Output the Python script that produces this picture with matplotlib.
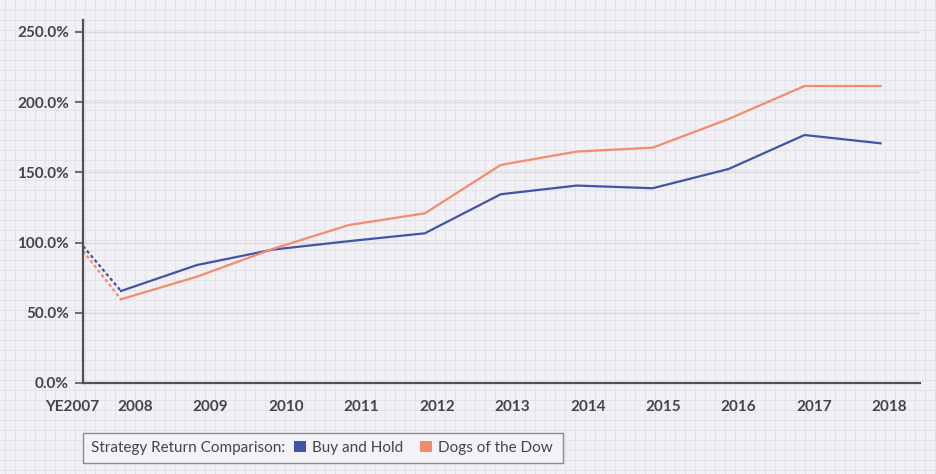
import numpy as np
import matplotlib
matplotlib.use("Agg")
import matplotlib.pyplot as plt
import matplotlib.transforms as mtransforms
from matplotlib.patches import Patch, Rectangle

# Data (YE2007 sits half a year before 2008)
years = [2007.5, 2008, 2009, 2010, 2011, 2012, 2013, 2014, 2015, 2016, 2017, 2018]
year_labels = ["YE2007", "2008", "2009", "2010", "2011", "2012", "2013",
               "2014", "2015", "2016", "2017", "2018"]
buy_and_hold = [97.5, 65.5, 84.0, 95.0, 101.0, 106.6, 134.4, 140.6, 138.7, 152.4, 176.6, 170.7]
dogs_of_dow = [94.0, 59.6, 75.7, 95.5, 112.5, 120.8, 155.3, 164.8, 167.6, 188.0, 211.5, 211.5]
y_ticks = [0, 50, 100, 150, 200, 250]

blue = "#4254a6"
orange = "#f38b6d"
text_col = "#454545"
W, H = 936, 474

plt.rcParams["font.family"] = ["Lato", "DejaVu Sans"]

fig = plt.figure(figsize=(W / 100, H / 100), dpi=100)
fig.patch.set_facecolor("#f1f0f4")

# graph-paper background
bg = fig.add_axes([0, 0, 1, 1], zorder=-1)
bg.set_xlim(0, W)
bg.set_ylim(0, H)
for gx in np.arange(5, W, 10):
    bg.axvline(gx, color="#e4e2e9", lw=0.7)
for gy in np.arange(4, H, 10):
    bg.axhline(gy, color="#e4e2e9", lw=0.7)
bg.set_facecolor("#f1f0f4")
bg.axis("off")

ax = fig.add_axes([83 / W, 91 / H, 837 / W, 363 / H])
ax.patch.set_alpha(0)

# dashed first step, solid afterwards
ax.plot(years[:2], buy_and_hold[:2], color=blue, lw=1.6, ls=(0, (1.5, 1.2)))
ax.plot(years[:2], dogs_of_dow[:2], color=orange, lw=1.6, ls=(0, (1.5, 1.2)))
ax.plot(years[1:], buy_and_hold[1:], color=blue, lw=1.6)
ax.plot(years[1:], dogs_of_dow[1:], color=orange, lw=1.6)

ax.set_yticks(y_ticks)
ax.set_yticklabels(["%.1f%%" % v for v in y_ticks])
ax.set_xticks(years)
ax.set_xticklabels(year_labels)
ax.set_xlim(2007.5, 2018.52)
ax.set_ylim(0, 258.5)
ax.grid(axis="y", color="#d9d8de", lw=1)
ax.set_axisbelow(True)

ax.tick_params(axis="y", length=6, width=1.2, color="#555555", pad=4,
               labelsize=11, labelcolor=text_col)
ax.tick_params(axis="x", length=0, pad=12, labelsize=11, labelcolor=text_col)
for lab in ax.get_xticklabels() + ax.get_yticklabels():
    lab.set_fontweight("bold")

# year labels sit a little right of their points; YE2007 a little left
for i, lab in enumerate(ax.get_xticklabels()):
    dx = -11 if i == 0 else 14 - 0.5 * (i - 1)
    lab.set_transform(lab.get_transform() +
                      mtransforms.ScaledTranslation(dx / 100, 0, fig.dpi_scale_trans))

for side in ["top", "right"]:
    ax.spines[side].set_visible(False)
for side in ["left", "bottom"]:
    ax.spines[side].set_color("#505050")
    ax.spines[side].set_linewidth(1.6)

# legend: inline title, then the two series, in one box
leg_y = (H - 448) / H
title = fig.text(91 / W, leg_y, "Strategy Return Comparison:", ha="left",
                 va="center", fontsize=11, color=text_col)
fig.canvas.draw()
tb = title.get_window_extent()
handles = [Patch(facecolor=blue, edgecolor="none"),
           Patch(facecolor=orange, edgecolor="none")]
leg = fig.legend(handles, ["Buy and Hold", "Dogs of the Dow"], ncol=2,
                 loc="center left", bbox_to_anchor=((tb.x1 + 9) / W, leg_y),
                 borderaxespad=0, borderpad=0, frameon=False, fontsize=11,
                 handlelength=0.78, handleheight=0.78, handletextpad=0.4,
                 columnspacing=1.1, labelcolor=text_col)
fig.canvas.draw()
lb = leg.get_window_extent()
box = Rectangle((83 / W, (H - 463) / H), (lb.x1 + 10 - 83) / W, 30 / H,
                transform=fig.transFigure, facecolor="#f3f2f6",
                edgecolor="#8a8a8a", lw=1.0, zorder=0)
fig.patches.append(box)

fig.savefig("out.png", dpi=100, facecolor=fig.get_facecolor())
